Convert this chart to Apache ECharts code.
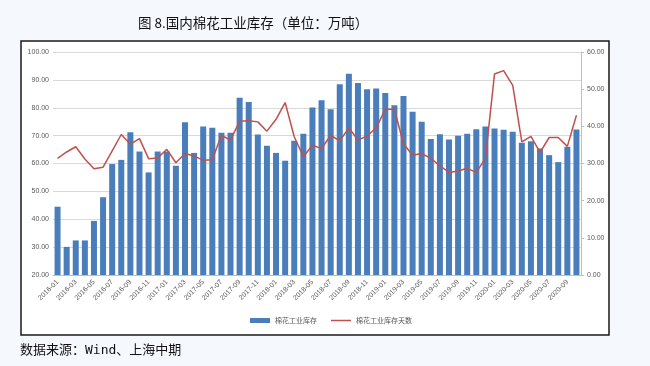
<!DOCTYPE html>
<html>
<head>
<meta charset="utf-8">
<script src="https://cdn.jsdelivr.net/npm/echarts@6/dist/echarts.min.js"></script>
<style>
html,body{margin:0;padding:0;background:#f5f8fd;}
#c{width:650px;height:366px;}
</style>
</head>
<body>
<div id="c"></div>
<script>
const categories = (function(){
  const out = [];
  for (let y = 2016; y <= 2020; y++) {
    for (let m = 1; m <= 12; m++) {
      if (y === 2020 && m > 10) break;
      out.push(y + '-' + (m < 10 ? '0' + m : '' + m));
    }
  }
  return out;
})();
const stockValues = [44.5,30.1,32.4,32.4,39.4,47.9,59.8,61.3,71.2,64.3,56.8,64.3,64.3,59.2,74.8,63.8,73.3,72.8,71.0,71.0,83.6,82.1,70.4,66.4,63.8,61.0,68.2,70.7,80.1,82.7,79.5,88.4,92.2,88.9,86.6,86.9,85.3,80.9,84.2,78.6,75.0,68.8,70.5,68.6,70.0,70.7,72.3,73.3,72.6,72.1,71.4,67.4,68.0,65.4,63.0,60.5,66.0,72.2];
const daysValues = [31.4,33.1,34.5,31.2,28.6,29.0,33.4,37.8,35.2,36.7,31.3,31.5,33.8,30.2,32.7,32.0,30.9,31.0,37.6,36.3,41.4,41.5,41.2,38.7,41.9,46.4,37.2,31.8,34.9,34.0,37.6,36.1,39.6,36.3,37.4,39.6,44.6,44.6,35.3,32.2,32.7,31.4,29.4,27.6,28.0,28.7,27.6,31.4,54.1,55.0,51.0,35.8,37.3,33.0,37.0,37.0,34.6,43.0];
const seriesNames = ['棉花工业库存','棉花工业库存天数'];
const titleText = '图 8.国内棉花工业库存（单位：万吨）';
const sourceText = '数据来源：Wind、上海中期';

const chart = echarts.init(document.getElementById('c'), null, {renderer:'canvas'});
const axisTxt = {color:'#595959', fontSize:7, fontFamily:'Liberation Sans, Arial, sans-serif'};
chart.setOption({
  backgroundColor:'#f5f8fd',
  animation:false,
  graphic:[
    {type:'rect', z:-10, shape:{x:21, y:41, width:588, height:294}, style:{fill:'#ffffff', stroke:'#1a1a1a', lineWidth:1.5}},
    {type:'text', left:20, top:344, style:{text:sourceText, fill:'#111', font:'13px "DejaVu Sans Mono", "Noto Sans CJK SC", monospace'}}
  ],
  title:{text:titleText, top:11, left:133, textStyle:{fontSize:13.5, fontWeight:'normal', color:'#111', fontFamily:'"Noto Sans CJK SC", sans-serif'}},
  legend:{
    bottom:37, left:245, itemGap:14,
    itemWidth:20, itemHeight:5,
    textStyle:{color:'#595959', fontSize:7, fontFamily:'"Noto Sans CJK SC", sans-serif'},
    data:[{name:seriesNames[0], icon:'rect'},{name:seriesNames[1], icon:'path://M0,0H20V1.5H0Z'}]
  },
  grid:{left:53, right:69, top:52, bottom:91, containLabel:false},
  xAxis:{
    type:'category', data:categories,
    axisLine:{lineStyle:{color:'#bfbfbf'}},
    axisTick:{show:false},
    axisLabel:Object.assign({interval:1, rotate:45, margin:6}, axisTxt)
  },
  yAxis:[
    {type:'value', min:20, max:100, interval:10, position:'left',
     axisLine:{show:false}, axisTick:{show:false},
     splitLine:{lineStyle:{color:'#d9d9d9'}},
     axisLabel:Object.assign({formatter:v=>v.toFixed(2), margin:4}, axisTxt)},
    {type:'value', min:0, max:60, interval:10, position:'right',
     axisLine:{show:true, lineStyle:{color:'#bfbfbf'}}, axisTick:{show:true, length:3, lineStyle:{color:'#bfbfbf'}},
     splitLine:{show:false},
     axisLabel:Object.assign({formatter:v=>v.toFixed(2), margin:6}, axisTxt)}
  ],
  series:[
    {name:seriesNames[0], type:'bar', yAxisIndex:0, data:stockValues, barWidth:'66%',
     itemStyle:{color:'#4a7ebb'}},
    {name:seriesNames[1], type:'line', yAxisIndex:1, data:daysValues, symbol:'none',
     lineStyle:{color:'#c0504d', width:1.5}, itemStyle:{color:'#c0504d'}}
  ]
});
</script>
</body>
</html>
